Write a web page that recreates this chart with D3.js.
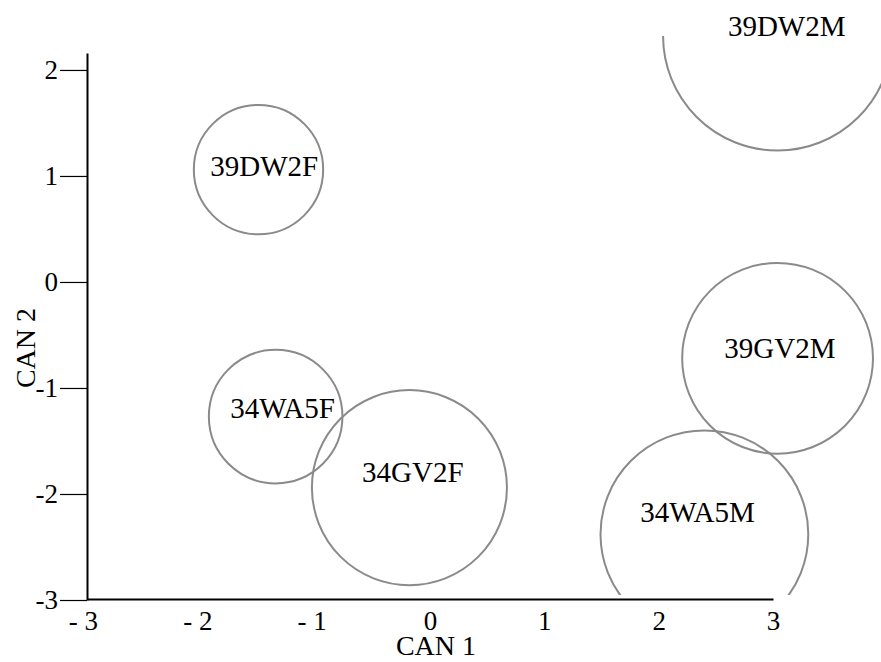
<!DOCTYPE html>
<html>
<head>
<meta charset="utf-8">
<script src="https://cdn.jsdelivr.net/npm/d3@7"></script>
<style>
  html, body { margin: 0; padding: 0; background: #fff; }
  svg { display: block; }
  text { font-family: "Liberation Serif", "Times New Roman", serif; fill: #000; }
</style>
</head>
<body>
<svg id="chart" width="881" height="662"></svg>
<script>
// ---- data ----
const groups  = ["39DW2F", "34WA5F", "34GV2F", "39GV2M", "34WA5M", "39DW2M"];
const can1    = [-1.50, -1.35, -0.18, 3.04, 2.40, 3.04];   // circle centre, CAN 1
const can2    = [ 1.06, -1.27, -1.94, -0.72, -2.38, 2.32];  // circle centre, CAN 2
const radius  = [ 0.61, 0.63, 0.92, 0.90, 0.98, 1.08];      // radius in CAN 2 units
const labelX  = [-1.45, -1.29, -0.15, 3.06, 2.34, 3.12];
const labelY  = [ 1.10, -1.19, -1.79, -0.62, -2.17, 2.42];
const xTicks  = [-3, -2, -1, 0, 1, 2, 3];
const yTicks  = [-3, -2, -1, 0, 1, 2];

const svg = d3.select("#chart");

const x = d3.scaleLinear().domain([-3, 3]).range([87, 773]);
const y = d3.scaleLinear().domain([-3, 2.16]).range([600, 53]);
const unitY = y(0) - y(1);

// clip region for circles
svg.append("defs").append("clipPath").attr("id", "plotclip")
  .append("rect")
  .attr("x", x(-3)).attr("y", 36)
  .attr("width", 881 - x(-3)).attr("height", 595 - 36);

const data = groups.map((g, i) => ({
  name: g, cx: can1[i], cy: can2[i], r: radius[i], lx: labelX[i], ly: labelY[i]
}));

svg.append("g").attr("clip-path", "url(#plotclip)")
  .selectAll("circle").data(data).join("circle")
  .attr("cx", d => x(d.cx))
  .attr("cy", d => y(d.cy))
  .attr("r", d => d.r * unitY)
  .attr("fill", "none")
  .attr("stroke", "#8a8a8a")
  .attr("stroke-width", 2);

svg.append("g").selectAll("text").data(data).join("text")
  .attr("x", d => x(d.lx))
  .attr("y", d => y(d.ly))
  .attr("dy", "0.35em")
  .attr("text-anchor", "middle")
  .attr("font-size", 29)
  .text(d => d.name);

// y axis
const yAxis = svg.append("g")
  .attr("transform", `translate(${x(-3)},0)`)
  .call(d3.axisLeft(y).tickValues(yTicks).tickSize(27).tickSizeOuter(0)
        .tickPadding(2).tickFormat(d => String(d)));
yAxis.attr("font-family", "Liberation Serif, serif");
yAxis.select(".domain").attr("stroke", "#000").attr("stroke-width", 2);
yAxis.selectAll(".tick line").attr("stroke", "#000").attr("stroke-width", 1.2);
yAxis.selectAll(".tick text")
  .attr("font-size", 27).attr("font-family", "Liberation Serif, serif").attr("fill", "#000");

// x axis
const xAxis = svg.append("g")
  .attr("transform", `translate(0,${y(-3) - 1})`)
  .call(d3.axisBottom(x).tickValues(xTicks).tickSize(0).tickSizeOuter(0)
        .tickPadding(12).tickFormat(d => d < 0 ? "- " + (-d) : String(d)));
xAxis.attr("font-family", "Liberation Serif, serif");
xAxis.select(".domain").attr("stroke", "#000").attr("stroke-width", 2);
xAxis.selectAll(".tick text")
  .attr("font-size", 27).attr("font-family", "Liberation Serif, serif").attr("fill", "#000")
  .attr("dx", d => d < 0 ? "-0.15em" : 0);

// axis titles
svg.append("text")
  .attr("x", 436).attr("y", 655)
  .attr("text-anchor", "middle").attr("font-size", 28)
  .text("CAN 1");

svg.append("text")
  .attr("transform", "translate(35,348) rotate(-90)")
  .attr("text-anchor", "middle").attr("font-size", 28)
  .text("CAN 2");
</script>
</body>
</html>
